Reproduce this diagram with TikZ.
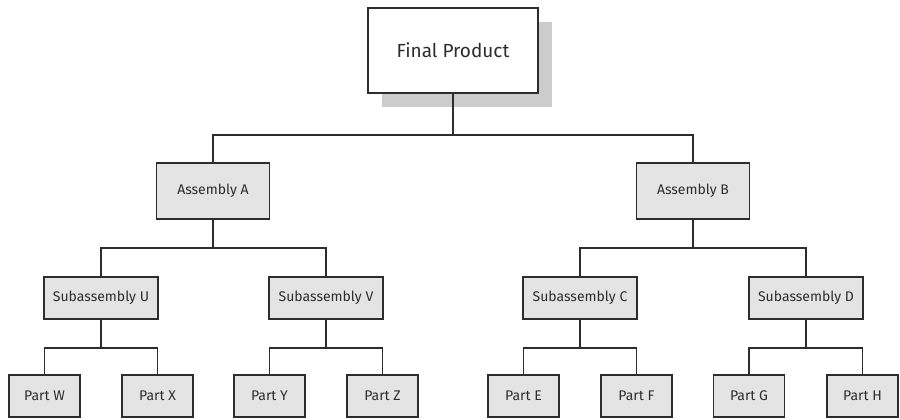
\documentclass[tikz,border=0pt]{standalone}
\usepackage{fontspec}
\setmainfont{Fira Sans}
\usepackage{tikz}
\usetikzlibrary{shadows}
\definecolor{boxgray}{RGB}{228,228,228}
\definecolor{shadowgray}{RGB}{204,204,204}
\definecolor{inkgray}{RGB}{45,45,45}
\tikzset{
  box/.style={rectangle, draw=inkgray, line width=0.7pt, fill=boxgray, text=inkgray, inner sep=0pt, font=\fontsize{7}{8}\selectfont},
  finalbox/.style={box, fill=white, minimum width=85pt, minimum height=42.5pt, font=\fontsize{9.5}{11}\selectfont,
    drop shadow={shadow xshift=7pt, shadow yshift=-7pt, fill=shadowgray, opacity=1}},
  asmbox/.style={box, minimum width=56.5pt, minimum height=28pt},
  subbox/.style={box, minimum width=57pt, minimum height=21pt},
  partbox/.style={box, minimum width=35.5pt, minimum height=21pt},
  link/.style={draw=inkgray, line width=0.6pt}
}

\begin{document}
\begin{tikzpicture}[x=0.5pt, y=-0.5pt]
\useasboundingbox (0,0) rectangle (900,419);
% top level
\node[finalbox] (final) at (453,50.5) {Final Product};
\node[asmbox] (asmA) at (213,191) {Assembly A};
\node[asmbox] (asmB) at (693,191) {Assembly B};
\coordinate (j0) at (453,135);
\draw[link] (final) -- (j0);
\draw[link] (j0) -| (asmA);
\draw[link] (j0) -| (asmB);
% subassemblies
\node[subbox] (subU) at (101,298) {Subassembly U};
\node[subbox] (subV) at (326,298) {Subassembly V};
\node[subbox] (subC) at (580,298) {Subassembly C};
\node[subbox] (subD) at (806,298) {Subassembly D};
\coordinate (jA) at (213,248);
\coordinate (jB) at (693,248);
\draw[link] (asmA) -- (jA);
\draw[link] (jA) -| (subU);
\draw[link] (jA) -| (subV);
\draw[link] (asmB) -- (jB);
\draw[link] (jB) -| (subC);
\draw[link] (jB) -| (subD);
% parts
\node[partbox] (partW) at (44.5,396) {Part W};
\node[partbox] (partX) at (157.5,396) {Part X};
\node[partbox] (partY) at (269.5,396) {Part Y};
\node[partbox] (partZ) at (382.5,396) {Part Z};
\node[partbox] (partE) at (523.5,396) {Part E};
\node[partbox] (partF) at (636.5,396) {Part F};
\node[partbox] (partG) at (749,396) {Part G};
\node[partbox] (partH) at (862.5,396) {Part H};
\coordinate (jU) at (101,348);
\coordinate (jV) at (326,348);
\coordinate (jC) at (580,348);
\coordinate (jD) at (806,348);
\draw[link] (subU) -- (jU);
\draw[link] (jU) -| (partW);
\draw[link] (jU) -| (partX);
\draw[link] (subV) -- (jV);
\draw[link] (jV) -| (partY);
\draw[link] (jV) -| (partZ);
\draw[link] (subC) -- (jC);
\draw[link] (jC) -| (partE);
\draw[link] (jC) -| (partF);
\draw[link] (subD) -- (jD);
\draw[link] (jD) -| (partG);
\draw[link] (jD) -| (partH);
\end{tikzpicture}
\end{document}
